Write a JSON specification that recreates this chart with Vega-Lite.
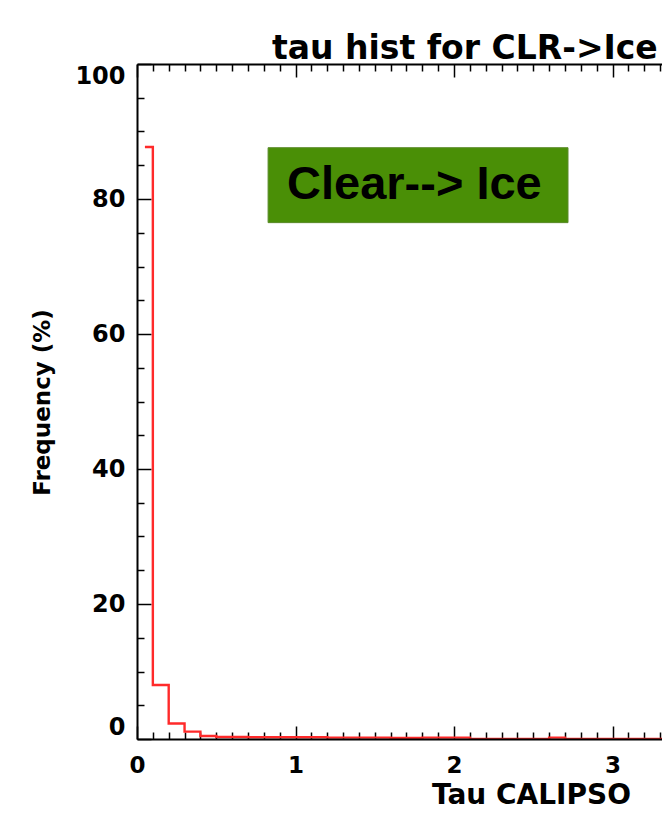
{
  "$schema": "https://vega.github.io/schema/vega-lite/v6.json",
  "autosize": {"type": "none"},
  "padding": {"left": 137, "top": 64, "right": 0, "bottom": 78},
  "width": 525,
  "height": 675,
  "background": "white",
  "config": {"view": {"stroke": null}},
  "title": {
    "text": "tau hist for CLR->Ice",
    "anchor": "start",
    "frame": "group",
    "dx": 135,
    "font": "DejaVu Sans",
    "fontWeight": "bold",
    "fontSize": 33,
    "color": "black",
    "baseline": "alphabetic",
    "offset": -29
  },
  "data": {
    "values": [
      {"tau": 0.05, "freq": 87.7},
      {"tau": 0.15, "freq": 8.0},
      {"tau": 0.25, "freq": 2.3},
      {"tau": 0.35, "freq": 1.1},
      {"tau": 0.45, "freq": 0.45},
      {"tau": 0.55, "freq": 0.3},
      {"tau": 0.65, "freq": 0.3},
      {"tau": 0.75, "freq": 0.25},
      {"tau": 0.85, "freq": 0.25},
      {"tau": 0.95, "freq": 0.25},
      {"tau": 1.05, "freq": 0.25},
      {"tau": 1.15, "freq": 0.25},
      {"tau": 1.25, "freq": 0.2},
      {"tau": 1.35, "freq": 0.2},
      {"tau": 1.45, "freq": 0.2},
      {"tau": 1.55, "freq": 0.2},
      {"tau": 1.65, "freq": 0.15},
      {"tau": 1.75, "freq": 0.15},
      {"tau": 1.85, "freq": 0.2},
      {"tau": 1.95, "freq": 0.2},
      {"tau": 2.05, "freq": 0.2},
      {"tau": 2.15, "freq": 0},
      {"tau": 2.25, "freq": 0},
      {"tau": 2.35, "freq": 0},
      {"tau": 2.45, "freq": 0},
      {"tau": 2.55, "freq": 0},
      {"tau": 2.65, "freq": 0.2},
      {"tau": 2.75, "freq": 0},
      {"tau": 2.85, "freq": 0},
      {"tau": 2.95, "freq": 0},
      {"tau": 3.05, "freq": 0},
      {"tau": 3.15, "freq": 0},
      {"tau": 3.25, "freq": 0},
      {"tau": 3.35, "freq": 0}
    ]
  },
  "resolve": {"axis": {"x": "independent", "y": "independent"}},
  "layer": [
    {
      "mark": {"type": "line", "interpolate": "step", "color": "#ff2a2a", "strokeWidth": 2.4, "clip": true},
      "encoding": {
        "x": {
          "field": "tau", "type": "quantitative",
          "scale": {"domain": [0, 3.312], "nice": false, "zero": false},
          "axis": {
            "orient": "bottom", "grid": false, "zindex": 1,
            "domain": true, "domainColor": "black", "domainWidth": 2,
            "ticks": false,
            "values": [0, 1, 2, 3], "format": "d",
            "labelFont": "DejaVu Sans", "labelFontWeight": "bold", "labelFontSize": 23, "labelColor": "black",
            "labelPadding": 15, "labelFlush": false,
            "title": "Tau CALIPSO",
            "titleFont": "DejaVu Sans", "titleFontWeight": "bold", "titleFontSize": 28, "titleColor": "black",
            "titleX": 394, "titleY": 64, "titleBaseline": "alphabetic"
          }
        },
        "y": {
          "field": "freq", "type": "quantitative",
          "scale": {"domain": [0, 100], "nice": false},
          "axis": {
            "orient": "left", "grid": false, "zindex": 1,
            "domain": true, "domainColor": "black", "domainWidth": 2,
            "ticks": false,
            "values": [0, 20, 40, 60, 80, 100],
            "labelFont": "DejaVu Sans", "labelFontWeight": "bold", "labelFontSize": 24, "labelColor": "black",
            "labelPadding": 12, "labelFlush": true,
            "title": "Frequency (%)",
            "titleFont": "DejaVu Sans", "titleFontWeight": "bold", "titleFontSize": 23, "titleColor": "black",
            "titleX": -95, "titleY": 338, "titleBaseline": "middle"
          }
        }
      }
    },
    {
      "mark": {"type": "point", "opacity": 0},
      "encoding": {
        "x": {
          "field": "tau", "type": "quantitative",
          "scale": {"domain": [0, 3.312], "nice": false, "zero": false},
          "axis": {"orient": "bottom", "grid": false, "domain": false, "labels": false, "title": null,
                   "ticks": true, "tickSize": -13, "tickWidth": 1.5, "tickColor": "black",
                   "values": [0, 1, 2, 3]}
        },
        "y": {
          "field": "freq", "type": "quantitative",
          "scale": {"domain": [0, 100], "nice": false},
          "axis": {"orient": "left", "grid": false, "domain": false, "labels": false, "title": null,
                   "ticks": true, "tickSize": -14, "tickWidth": 1.5, "tickColor": "black",
                   "values": [0, 20, 40, 60, 80, 100]}
        }
      }
    },
    {
      "mark": {"type": "point", "opacity": 0},
      "encoding": {
        "x": {
          "field": "tau", "type": "quantitative",
          "scale": {"domain": [0, 3.312], "nice": false, "zero": false},
          "axis": {"orient": "bottom", "grid": false, "domain": false, "labels": false, "title": null,
                   "ticks": true, "tickSize": -7, "tickWidth": 1.5, "tickColor": "black",
                   "values": [0.1, 0.2, 0.3, 0.4, 0.5, 0.6, 0.7, 0.8, 0.9, 1.1, 1.2, 1.3, 1.4, 1.5, 1.6, 1.7, 1.8, 1.9, 2.1, 2.2, 2.3, 2.4, 2.5, 2.6, 2.7, 2.8, 2.9, 3.1, 3.2, 3.3]}
        },
        "y": {
          "field": "freq", "type": "quantitative",
          "scale": {"domain": [0, 100], "nice": false},
          "axis": {"orient": "left", "grid": false, "domain": false, "labels": false, "title": null,
                   "ticks": true, "tickSize": -7, "tickWidth": 1.5, "tickColor": "black",
                   "values": [5, 10, 15, 25, 30, 35, 45, 50, 55, 65, 70, 75, 85, 90, 95]}
        }
      }
    },
    {
      "mark": {"type": "point", "opacity": 0},
      "encoding": {
        "x": {
          "field": "tau", "type": "quantitative",
          "scale": {"domain": [0, 3.312], "nice": false, "zero": false},
          "axis": {"orient": "top", "grid": false, "domain": true, "domainColor": "black", "domainWidth": 2,
                   "labels": false, "title": null,
                   "ticks": true, "tickSize": -13, "tickWidth": 1.5, "tickColor": "black",
                   "values": [0, 1, 2, 3]}
        },
        "y": {"field": "freq", "type": "quantitative", "scale": {"domain": [0, 100], "nice": false}, "axis": null}
      }
    },
    {
      "mark": {"type": "point", "opacity": 0},
      "encoding": {
        "x": {
          "field": "tau", "type": "quantitative",
          "scale": {"domain": [0, 3.312], "nice": false, "zero": false},
          "axis": {"orient": "top", "grid": false, "domain": false, "labels": false, "title": null,
                   "ticks": true, "tickSize": -7, "tickWidth": 1.5, "tickColor": "black",
                   "values": [0.1, 0.2, 0.3, 0.4, 0.5, 0.6, 0.7, 0.8, 0.9, 1.1, 1.2, 1.3, 1.4, 1.5, 1.6, 1.7, 1.8, 1.9, 2.1, 2.2, 2.3, 2.4, 2.5, 2.6, 2.7, 2.8, 2.9, 3.1, 3.2, 3.3]}
        },
        "y": {"field": "freq", "type": "quantitative", "scale": {"domain": [0, 100], "nice": false}, "axis": null}
      }
    },
    {
      "data": {"values": [{"label": "Clear--> Ice"}]},
      "mark": {"type": "rect", "fill": "#4a8f06", "stroke": "#5a8a2a", "strokeWidth": 1},
      "encoding": {
        "x": {"datum": 0.827, "type": "quantitative", "scale": {"domain": [0, 3.312], "nice": false, "zero": false}, "axis": null},
        "x2": {"datum": 2.719},
        "y": {"datum": 87.6, "type": "quantitative", "scale": {"domain": [0, 100], "nice": false}, "axis": null},
        "y2": {"datum": 76.5}
      }
    },
    {
      "data": {"values": [{"label": "Clear--> Ice"}]},
      "mark": {"type": "text", "font": "Liberation Sans", "fontWeight": "bold", "fontSize": 47, "color": "black", "align": "center", "baseline": "middle"},
      "encoding": {
        "x": {"datum": 1.75, "type": "quantitative", "scale": {"domain": [0, 3.312], "nice": false, "zero": false}, "axis": null},
        "y": {"datum": 82.1, "type": "quantitative", "scale": {"domain": [0, 100], "nice": false}, "axis": null},
        "text": {"field": "label"}
      }
    }
  ]
}
